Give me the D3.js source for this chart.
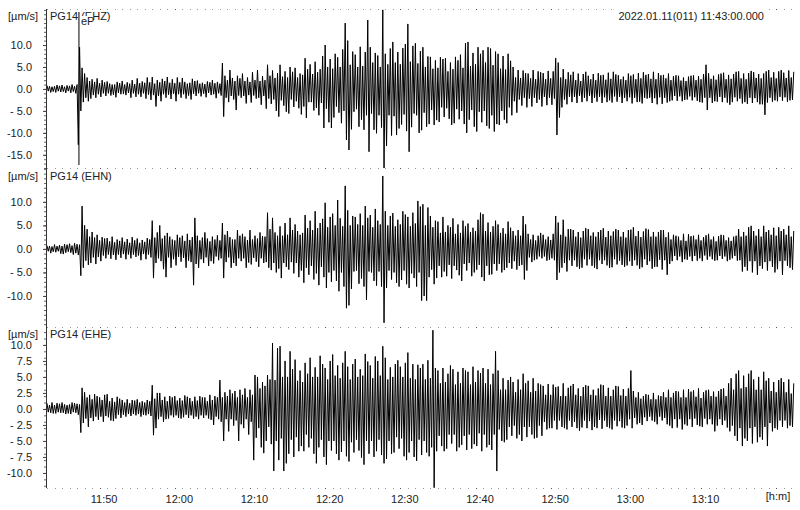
<!DOCTYPE html>
<html>
<head>
<meta charset="utf-8">
<script src="https://cdn.jsdelivr.net/npm/d3@7"></script>
<style>
  body { margin: 0; background: #fff; }
  text { font-family: "Liberation Sans", Arial, sans-serif; }
</style>
</head>
<body>
<svg id="chart" width="800" height="510"></svg>
<script>
// recording start and sample spacing (peaks every 10 s)
const startTime = new Date(2022, 0, 11, 11, 43, 0);
const sampleSeconds = 10;
const dateLabel = "2022.01.11(011) 11:43:00.000";
const channels = ["PG14 (EHZ)", "PG14 (EHN)", "PG14 (EHE)"];
const pickName = "eP";
const pickTime = new Date(2022, 0, 11, 11, 47, 15);

// one row per minute, 6 peaks each (um/s)
const ehz = [
  0.8,-0.5,0.6,-0.8,0.5,-0.6, 0.6,-0.8,0.9,-0.5,0.7,-0.7, 0.9,-0.6,0.5,-0.9,0.8,-0.5, 0.7,-0.9,1.0,-0.6,0.6,-1.0,
  1.0,-12.7,9.5,-5.0,4.8,-3.0, 3.5,-2.0,2.6,-2.8,1.8,-2.2, 2.2,-1.4,1.6,-2.0,2.4,-1.2, 1.3,-1.8,2.0,-1.0,1.5,-1.6,
  1.7,-1.0,1.2,-1.5,1.0,-1.3, 1.0,-1.9,1.6,-0.9,1.3,-1.2, 1.8,-1.1,1.0,-1.4,1.5,-0.9, 1.2,-2.0,2.0,-1.0,1.1,-1.8,
  2.4,-1.2,1.3,-1.8,1.7,-1.0, 1.4,-2.2,2.6,-1.3,1.5,-2.5, 2.7,-1.4,1.2,-4.0,2.0,-1.6, 1.5,-2.8,2.3,-1.2,1.8,-2.0,
  2.7,-1.3,1.4,-2.3,2.2,-1.1, 1.3,-2.8,2.6,-1.2,1.5,-2.0, 2.5,-1.2,1.6,-2.2,1.2,-1.5, 1.4,-2.4,2.3,-1.1,1.8,-1.6,
  1.9,-1.0,1.2,-1.7,1.4,-1.1, 1.1,-1.9,1.7,-0.9,1.5,-1.4, 2.0,-1.2,1.3,-2.1,1.6,-1.0, 1.2,-1.5,5.9,-6.3,3.0,-2.0,
  2.0,-3.0,4.3,-1.6,2.5,-2.4, 1.8,-4.8,3.0,-1.5,2.4,-2.0, 3.5,-1.6,1.8,-3.3,2.6,-1.4, 1.6,-3.1,3.8,-1.5,2.0,-2.2,
  4.3,-2.0,1.8,-3.6,2.9,-1.6, 2.0,-4.5,5.5,-2.2,3.0,-3.4, 4.2,-2.4,2.5,-5.0,3.6,-6.3, 5.5,-2.6,2.8,-3.8,4.0,-5.2,
  2.6,-5.6,5.0,-2.4,3.9,-4.1, 4.8,-2.8,2.6,-4.4,3.5,-5.8, 3.2,-4.0,7.0,-6.6,4.5,-3.0, 5.6,-3.0,3.4,-4.9,6.2,-4.3,
  3.8,-6.0,4.5,-3.2,7.5,-8.9, 10.0,-4.5,5.0,-7.6,6.8,-8.9, 4.6,-6.5,8.0,-4.0,7.2,-5.4, 5.0,-7.8,9.0,-5.0,15.0,-11.6,
  11.0,-13.9,5.5,-9.2,8.5,-5.2, 7.8,-4.6,5.0,-8.6,9.6,-7.0, 5.2,-9.3,8.4,-6.0,15.7,-14.3, 9.5,-5.6,6.0,-9.3,8.2,-10.1,
  7.6,-6.0,5.0,-8.8,18.0,-18.0, 8.0,-13.0,5.6,-6.0,9.2,-10.6, 10.7,-6.2,6.0,-10.5,8.4,-9.0, 5.6,-8.1,9.3,-5.8,10.2,-9.6,
  14.8,-14.3,6.2,-8.7,9.8,-5.6, 10.4,-6.0,5.8,-10.0,8.6,-9.4, 9.5,-5.4,5.0,-8.6,7.4,-8.0, 7.3,-4.8,4.6,-8.2,6.5,-7.1,
  4.8,-7.5,7.2,-4.2,6.8,-6.4, 7.0,-4.4,4.0,-6.8,6.0,-8.2, 4.5,-7.8,7.3,-4.6,6.5,-6.9, 7.8,-5.0,4.8,-8.0,10.4,-10.0,
  10.7,-7.0,5.2,-4.8,8.2,-8.6, 5.6,-9.7,9.5,-5.2,8.0,-7.6, 8.8,-5.0,6.0,-8.4,9.5,-9.0, 9.2,-6.0,5.4,-9.7,8.5,-8.0,
  8.0,-8.2,4.6,-5.0,7.5,-7.0, 4.4,-7.8,8.0,-4.2,6.4,-6.0, 5.0,-2.8,2.6,-5.4,4.3,-2.4, 2.5,-3.8,4.2,-2.0,3.6,-4.2,
  3.5,-2.2,2.4,-4.0,4.3,-2.0, 2.2,-3.2,4.0,-2.4,3.8,-4.0, 3.6,-1.8,2.2,-3.7,4.1,-2.0, 2.4,-3.6,4.0,-2.2,7.0,-10.5,
  6.0,-6.5,2.6,-4.2,4.5,-2.4, 2.2,-3.5,3.8,-1.8,3.2,-3.0, 3.9,-1.8,2.0,-3.2,3.5,-1.6, 1.8,-3.0,3.4,-2.0,3.9,-2.8,
  3.0,-1.6,2.2,-3.2,3.4,-2.0, 2.0,-2.9,3.6,-1.8,3.1,-3.2, 3.2,-1.9,2.1,-3.0,3.7,-2.6, 2.3,-3.1,3.9,-1.7,3.3,-2.9,
  3.1,-1.8,2.2,-3.2,2.8,-2.0, 2.0,-2.8,3.5,-1.9,3.0,-3.3, 3.3,-2.0,2.2,-3.0,3.6,-2.9, 2.4,-3.3,3.8,-2.0,3.2,-2.2,
  3.4,-2.0,2.3,-3.2,3.9,-2.1, 2.2,-3.5,3.6,-1.9,3.1,-3.4, 3.2,-2.0,2.4,-3.1,3.5,-2.8, 2.0,-2.6,2.9,-1.6,3.1,-2.7,
  3.0,-1.7,1.9,-2.8,2.6,-2.5, 1.8,-2.4,2.8,-1.7,3.0,-2.6, 3.1,-1.9,2.0,-2.7,2.9,-3.0, 2.2,-3.1,3.4,-2.0,5.5,-4.8,
  3.6,-2.0,2.3,-3.2,3.0,-2.8, 2.1,-2.9,3.3,-1.8,3.5,-3.0, 3.7,-2.0,2.2,-3.1,3.2,-3.6, 2.3,-3.0,3.4,-1.9,3.9,-2.8,
  4.0,-2.2,2.4,-3.3,3.5,-3.0, 2.2,-3.4,3.6,-2.0,4.1,-3.2, 3.8,-2.1,2.5,-3.0,3.4,-3.5, 2.4,-3.5,3.5,-5.9,4.0,-3.1,
  4.3,-2.0,2.6,-2.9,3.8,-2.6, 2.4,-2.8,4.0,-1.8,4.3,-2.7, 3.7,-1.9,2.5,-2.9,4.2,-2.6, 2.6,-2.5,3.9
];

const ehn = [
  0.7,-0.5,0.6,-0.9,0.5,-0.6, 0.9,-0.7,0.6,-0.5,0.8,-1.0, 0.6,-1.1,1.0,-0.8,0.9,-0.6, 1.1,-0.8,0.7,-1.2,1.2,-0.9,
  1.0,-1.3,0.9,-5.7,9.1,-4.0, 5.0,-2.5,4.2,-3.4,2.6,-3.0, 3.6,-1.8,2.4,-3.2,3.0,-1.7, 1.8,-2.6,2.5,-1.4,2.2,-2.0,
  2.3,-1.2,1.6,-2.1,2.6,-1.3, 1.4,-2.3,2.0,-1.2,1.7,-1.9, 2.4,-1.1,1.5,-2.2,2.1,-1.2, 1.3,-2.0,2.5,-1.2,1.8,-1.7,
  2.2,-1.4,1.3,-2.4,1.9,-1.1, 1.5,-2.2,2.3,-1.2,2.0,-1.8, 6.0,-6.2,2.4,-3.0,3.5,-2.0, 5.0,-2.6,2.2,-4.3,2.8,-6.0,
  3.4,-1.8,2.6,-4.0,2.0,-2.2, 1.8,-3.5,3.0,-1.7,2.4,-2.7, 2.8,-1.9,1.7,-4.0,3.2,-2.5, 1.9,-2.8,2.5,-7.7,6.6,-3.2,
  2.8,-4.0,1.8,-2.2,2.4,-3.0, 3.5,-1.8,2.2,-3.6,1.6,-2.6, 2.6,-3.1,2.0,-1.6,2.9,-2.4, 1.8,-2.0,5.5,-6.2,3.0,-2.8,
  3.8,-1.8,2.5,-4.0,2.0,-3.0, 2.0,-3.6,4.0,-2.0,2.8,-2.6, 3.2,-2.0,2.6,-4.0,1.9,-2.9, 4.0,-3.3,2.0,-1.9,2.8,-2.7,
  2.2,-3.8,3.5,-2.0,2.7,-3.0, 2.6,-2.8,7.7,-4.0,4.2,-4.5, 6.6,-3.0,3.5,-5.0,2.8,-4.2, 4.8,-6.2,2.8,-3.0,5.5,-3.8,
  3.0,-4.4,6.6,-2.8,4.0,-5.2, 5.2,-3.0,3.8,-6.0,3.0,-4.6, 3.4,-7.2,7.2,-4.0,4.4,-5.5, 6.0,-3.6,4.0,-6.5,8.0,-5.2,
  4.4,-7.7,5.5,-3.8,6.4,-6.0, 9.8,-8.3,4.6,-5.0,6.8,-7.0, 7.5,-4.6,5.0,-6.8,10.4,-9.0, 6.5,-5.0,4.8,-8.0,13.4,-12.6,
  8.2,-12.0,5.0,-8.5,7.0,-4.8, 6.8,-4.6,5.2,-7.4,7.5,-6.3, 5.0,-8.0,9.1,-10.8,6.6,-4.8, 7.2,-5.0,4.6,-6.8,8.5,-7.8,
  6.0,-4.8,5.2,-8.0,15.5,-15.7, 8.0,-8.3,5.0,-4.6,7.0,-6.5, 7.6,-5.0,4.8,-7.2,6.2,-8.0, 5.2,-6.6,8.0,-4.6,7.3,-7.5,
  6.8,-8.3,4.8,-5.2,7.7,-6.2, 5.4,-8.0,10.2,-5.0,9.0,-11.0, 9.5,-10.0,5.0,-11.0,8.8,-6.0, 7.0,-4.4,4.6,-7.5,6.0,-6.2,
  5.8,-3.6,3.4,-6.0,6.8,-4.8, 3.6,-5.8,5.0,-3.4,4.6,-6.3, 6.5,-3.6,3.2,-4.5,5.2,-5.6, 3.4,-6.8,6.0,-3.2,4.8,-4.6,
  5.4,-3.0,3.6,-5.8,4.5,-5.0, 3.8,-4.4,6.2,-3.4,7.7,-6.0, 7.4,-6.8,3.8,-3.6,5.6,-5.5, 3.6,-5.4,4.8,-3.2,6.0,-4.6,
  5.2,-3.2,3.4,-5.0,4.4,-4.5, 3.2,-4.0,5.8,-3.0,4.5,-4.2, 3.8,-2.6,2.8,-4.4,4.0,-3.6, 2.8,-3.4,7.0,-6.5,5.2,-4.6,
  3.2,-1.8,2.0,-2.8,3.0,-2.4, 1.8,-2.2,2.8,-1.6,3.4,-2.0, 3.0,-1.6,2.0,-2.5,2.6,-2.3, 1.9,-2.0,3.2,-2.4,7.0,-6.6,
  5.6,-5.0,3.0,-4.0,6.2,-3.0, 2.6,-4.8,4.2,-2.4,4.2,-3.6, 4.0,-2.4,2.6,-3.8,3.6,-4.2, 2.4,-4.0,3.8,-2.2,4.4,-3.5,
  4.2,-2.2,2.8,-3.6,3.5,-4.0, 2.6,-4.3,3.6,-2.4,4.0,-3.2, 4.4,-2.4,2.5,-3.5,3.8,-4.0, 2.8,-3.9,3.7,-2.2,4.2,-3.3,
  4.0,-2.5,2.6,-3.4,3.6,-3.8, 2.4,-3.5,4.0,-2.6,4.1,-3.6, 4.6,-2.4,2.7,-3.5,3.8,-4.2, 2.5,-3.9,3.7,-2.2,4.3,-3.4,
  4.1,-2.6,2.6,-4.2,3.6,-3.8, 2.6,-3.8,3.6,-2.3,4.0,-4.4, 4.0,-2.4,2.5,-5.5,3.5,-3.2, 2.0,-2.6,3.0,-1.5,2.8,-2.4,
  2.6,-1.6,1.8,-2.8,3.2,-2.2, 1.7,-2.3,3.1,-1.6,2.7,-2.6, 2.8,-1.5,2.0,-2.5,3.0,-2.0, 1.8,-2.6,2.5,-1.4,2.9,-2.3,
  3.2,-1.6,2.0,-2.2,2.6,-2.5, 1.6,-2.4,2.7,-1.5,3.0,-2.1, 2.9,-1.6,1.8,-2.6,2.4,-2.3, 1.7,-2.0,2.6,-1.5,2.8,-2.5,
  4.2,-2.4,2.6,-4.8,3.6,-3.8, 2.8,-4.6,4.6,-2.6,4.9,-5.0, 3.8,-2.6,2.8,-5.5,4.2,-3.6, 2.6,-4.2,4.9,-2.8,3.6,-4.6,
  4.0,-2.6,3.0,-3.8,4.5,-5.0, 2.8,-4.3,4.6,-2.6,3.8,-5.5, 4.2,-2.5,3.0,-3.6,4.9,-4.0, 2.6,-4.4,3.8
];

const ehe = [
  0.9,-0.5,0.6,-0.6,1.0,-0.7, 0.6,-0.7,0.9,-0.5,0.8,-0.6, 1.0,-0.6,0.7,-0.8,0.6,-0.7, 0.7,-0.8,1.0,-0.5,0.9,-0.6,
  0.8,-0.9,0.7,-3.7,3.3,-2.2, 2.6,-1.5,1.8,-2.8,2.2,-1.4, 1.5,-1.9,2.3,-1.2,2.0,-1.7, 1.8,-1.2,1.4,-2.0,2.2,-1.1,
  2.3,-1.3,1.2,-1.8,1.7,-1.9, 1.1,-1.5,1.9,-0.9,1.6,-1.4, 1.4,-0.9,1.0,-1.2,1.5,-0.8, 0.9,-1.1,1.4,-0.8,1.3,-1.0,
  1.5,-0.8,1.0,-1.2,1.2,-0.9, 1.0,-1.0,1.4,-0.8,1.2,-1.1, 3.7,-4.1,1.6,-3.0,2.5,-1.6, 2.5,-1.2,1.4,-2.0,1.9,-1.6,
  1.2,-1.5,2.0,-1.0,1.8,-1.3, 2.0,-1.0,1.3,-1.4,1.7,-1.5, 1.3,-1.3,2.1,-0.9,1.9,-1.4, 1.7,-1.0,1.2,-1.5,1.9,-1.2,
  1.3,-1.6,2.0,-1.0,1.8,-1.4, 1.8,-1.0,1.2,-1.5,2.2,-1.7, 1.4,-2.5,2.0,-1.2,1.8,-1.6, 4.5,-2.0,1.8,-5.0,2.6,-1.6,
  2.0,-3.5,3.0,-1.6,2.4,-2.6, 2.8,-1.8,1.8,-5.0,3.0,-2.4, 2.2,-3.0,3.2,-1.6,1.8,-4.0, 3.0,-2.0,2.2,-8.0,5.3,-4.5,
  5.0,-3.0,3.2,-6.0,4.2,-6.9, 3.6,-5.0,5.3,-2.8,4.6,-5.5, 10.3,-9.7,4.5,-5.0,9.5,-8.0, 9.8,-4.6,5.0,-9.7,7.5,-8.5,
  5.0,-7.0,9.0,-4.8,6.2,-7.5, 7.7,-4.4,4.4,-6.6,6.0,-5.8, 4.2,-6.6,7.2,-4.0,5.5,-6.0, 8.0,-4.6,5.0,-7.0,6.5,-8.5,
  5.0,-6.0,8.3,-4.8,7.0,-7.5, 6.4,-8.7,4.6,-5.0,7.5,-6.5, 8.5,-5.0,5.2,-7.0,6.8,-8.0, 4.8,-6.7,7.2,-5.0,9.0,-7.4,
  6.6,-8.2,4.6,-5.2,7.0,-6.8, 7.8,-4.8,5.0,-6.5,6.2,-7.6, 5.2,-8.7,8.6,-5.0,7.4,-7.0, 6.8,-5.0,4.8,-7.5,8.2,-6.6,
  7.5,-4.8,5.2,-7.2,9.8,-8.5, 8.0,-7.8,4.6,-5.0,6.5,-7.0, 5.0,-6.8,7.0,-4.4,7.6,-6.2, 6.6,-4.6,5.0,-7.4,7.2,-8.0,
  8.8,-6.8,4.8,-5.0,7.0,-7.5, 4.6,-8.1,6.9,-4.8,6.4,-7.2, 7.0,-5.0,4.6,-6.8,7.6,-7.4, 4.8,-6.0,12.3,-12.3,6.4,-6.6,
  6.0,-4.2,4.0,-5.8,6.4,-6.6, 4.2,-6.2,5.5,-4.0,6.8,-5.4, 6.2,-4.0,3.8,-6.6,5.8,-6.0, 4.0,-5.6,6.4,-4.2,6.0,-6.4,
  5.8,-4.0,3.8,-6.2,6.6,-5.5, 4.2,-5.8,6.0,-3.8,5.6,-6.6, 6.4,-4.0,4.0,-6.0,6.2,-5.6, 3.8,-6.4,5.5,-4.0,9.0,-9.7,
  6.0,-3.2,3.0,-5.0,4.8,-5.2, 3.0,-4.8,4.5,-2.8,5.0,-4.2, 4.2,-2.6,2.6,-4.6,4.6,-4.0, 3.0,-5.0,5.5,-2.8,4.0,-4.4,
  4.4,-2.8,2.6,-4.0,4.8,-4.6, 2.8,-4.5,4.0,-2.6,3.8,-4.2, 3.6,-2.0,2.2,-3.2,3.9,-3.0, 2.2,-3.0,3.8,-1.8,3.4,-3.2,
  3.5,-1.8,2.0,-2.8,4.0,-3.0, 2.0,-3.2,3.3,-1.8,3.6,-2.8, 3.9,-2.0,2.2,-3.0,3.2,-3.4, 2.0,-2.9,3.4,-1.8,3.7,-3.0,
  3.6,-1.9,2.2,-3.3,3.0,-2.8, 2.1,-3.0,3.2,-1.7,3.8,-3.1, 3.7,-1.8,2.0,-2.8,3.3,-3.0, 2.0,-3.2,3.0,-1.8,3.6,-2.7,
  3.5,-1.9,2.1,-2.9,3.1,-3.0, 2.0,-2.6,3.2,-1.6,6.0,-3.0, 2.8,-1.4,1.8,-2.4,2.6,-2.2, 1.6,-2.5,2.0,-1.3,2.3,-1.9,
  2.2,-1.2,1.5,-1.8,2.5,-2.0, 1.5,-2.4,2.1,-1.2,2.0,-1.8, 2.6,-1.4,1.8,-2.4,3.0,-2.6, 1.8,-3.0,2.5,-1.6,2.8,-2.9,
  2.7,-1.6,1.8,-3.2,3.0,-2.4, 1.8,-2.6,3.1,-1.6,2.7,-2.8, 2.9,-1.5,1.9,-2.5,3.2,-2.7, 1.7,-2.8,2.6,-1.5,2.9,-2.4,
  3.0,-1.6,2.0,-2.4,2.7,-3.5, 1.9,-2.6,2.8,-1.6,3.1,-2.5, 3.2,-1.8,2.0,-2.9,4.0,-3.5, 4.8,-2.6,3.0,-4.2,5.5,-5.0,
  6.0,-3.0,3.2,-5.8,5.2,-4.6, 3.4,-5.0,5.5,-3.0,6.0,-5.4, 4.6,-2.8,3.0,-5.2,5.0,-4.4, 3.0,-4.8,5.8,-2.8,4.4,-5.8,
  4.8,-2.2,2.8,-3.5,4.2,-3.0, 2.6,-3.2,4.5,-1.8,4.8,-2.8, 4.2,-1.8,2.6,-3.0,4.6,-2.6, 2.4,-2.8,4.0
];

const ehzTicks = [10, 5, 0, -5, -10, -15];
const ehnTicks = [10, 5, 0, -5, -10];
const eheTicks = [10, 7.5, 5, 2.5, 0, -2.5, -5, -7.5, -10];
const timeTicks = ["11:50", "12:00", "12:10", "12:20", "12:30", "12:40", "12:50", "13:00", "13:10"];

const svg = d3.select("#chart");

let margin = { left: 47, right: 5 };
let width = 800;

let endTime = new Date(startTime.getTime() + 99.5 * 60000);
let x = d3.scaleTime()
  .domain([startTime, endTime])
  .range([margin.left, width - margin.right]);

let sampleTime = (i) => new Date(startTime.getTime() + i * sampleSeconds * 1000);

// panels: pixel band and the value range it shows
let panels = [
  { name: channels[0], values: ehz, ticks: ehzTicks, top: 9, bottom: 168, domain: [-18, 18.2] },
  { name: channels[1], values: ehn, ticks: ehnTicks, top: 168, bottom: 327, domain: [-16.6, 17.2] },
  { name: channels[2], values: ehe, ticks: eheTicks, top: 327, bottom: 488, domain: [-12.35, 12.8] }
];

let fmt = (v) => (v < 0 && v > -10) ? "- " + Math.abs(v).toFixed(1) : v.toFixed(1);

// minute dots along the panel borders
let minutes = d3.timeMinute.range(startTime, endTime);
[9, 168, 327, 488].forEach((yy) => {
  svg.append("g").selectAll("rect")
    .data(minutes)
    .join("rect")
    .attr("x", (d) => Math.round(x(d)))
    .attr("y", yy)
    .attr("width", 1)
    .attr("height", 1)
    .attr("fill", (d) => d.getMinutes() % 10 == 0 ? "#555" : "#999");
});

panels.forEach((p, k) => {
  let y = d3.scaleLinear().domain(p.domain).range([p.bottom, p.top]);

  svg.append("clipPath").attr("id", "clip" + k)
    .append("rect")
    .attr("x", margin.left).attr("y", p.top)
    .attr("width", width - margin.left).attr("height", p.bottom - p.top);

  // minor ticks
  let minor = d3.range(Math.ceil(p.domain[0]), Math.floor(p.domain[1]) + 1);
  svg.append("g")
    .attr("transform", "translate(46,0)")
    .call(d3.axisLeft(y).tickValues(minor).tickSize(2).tickFormat(""))
    .call((g) => g.select(".domain").remove())
    .call((g) => g.selectAll("line").attr("stroke", "#666"));

  let yAxis = d3.axisLeft(y)
    .tickValues(p.ticks)
    .tickSize(3)
    .tickPadding(11)
    .tickFormat(fmt);

  let yGroup = svg.append("g").attr("transform", "translate(46,0)").call(yAxis);
  yGroup.select(".domain").remove();
  yGroup.selectAll("text")
    .style("font-size", "11px")
    .style("font-family", "Liberation Sans, Arial, sans-serif")
    .attr("fill", "#222");
  yGroup.selectAll("line").attr("stroke", "#444");

  let lineFunction = d3.line()
    .x((d, i) => x(sampleTime(i)))
    .y((d) => y(d));

  svg.append("path")
    .attr("clip-path", "url(#clip" + k + ")")
    .attr("d", lineFunction(p.values))
    .attr("fill", "none")
    .attr("stroke", "#000")
    .attr("stroke-width", 1);

  // unit + channel labels
  let labelY = k == 0 ? 20 : (k == 1 ? 180 : 338);
  svg.append("text")
    .text("[\u00b5m/s]")
    .attr("x", 8).attr("y", labelY)
    .style("font-size", "11px")
    .attr("fill", "#222");

  svg.append("text")
    .text(p.name)
    .attr("x", 50).attr("y", labelY)
    .style("font-size", "11px")
    .attr("fill", "#222");
});

// left axis line through all panels
svg.append("line")
  .attr("x1", 46.5).attr("x2", 46.5)
  .attr("y1", 9).attr("y2", 488)
  .attr("stroke", "#333");

// pick marker on the Z trace
svg.append("line")
  .attr("x1", x(pickTime)).attr("x2", x(pickTime))
  .attr("y1", 12).attr("y2", 165)
  .attr("stroke", "#000");
svg.append("rect")
  .attr("x", x(pickTime) + 2).attr("y", 16)
  .attr("width", 11).attr("height", 10)
  .attr("fill", "#fff");
svg.append("text")
  .text(pickName)
  .attr("x", x(pickTime) + 2).attr("y", 25)
  .style("font-size", "11px")
  .attr("fill", "#222");

// date stamp
svg.append("rect")
  .attr("x", 618).attr("y", 3)
  .attr("width", 150).attr("height", 19)
  .attr("fill", "#fff");
svg.append("text")
  .text(dateLabel)
  .attr("x", 764).attr("y", 20)
  .attr("text-anchor", "end")
  .style("font-size", "11px")
  .attr("fill", "#222");

// time axis labels
let parseHM = d3.timeParse("%H:%M");
let tickDates = timeTicks.map((s) => {
  let t = parseHM(s);
  return new Date(2022, 0, 11, t.getHours(), t.getMinutes(), 0);
});
let xAxis = d3.axisBottom(x)
  .tickValues(tickDates)
  .tickSize(0)
  .tickPadding(7)
  .tickFormat(d3.timeFormat("%H:%M"));
let xGroup = svg.append("g").attr("transform", "translate(4,488)").call(xAxis);
xGroup.select(".domain").remove();
xGroup.selectAll("text")
  .style("font-size", "11px")
  .style("font-family", "Liberation Sans, Arial, sans-serif")
  .attr("fill", "#222");

svg.append("text")
  .text("[h:m]")
  .attr("x", 778).attr("y", 500)
  .attr("text-anchor", "middle")
  .style("font-size", "11px")
  .attr("fill", "#222");
</script>
</body>
</html>
